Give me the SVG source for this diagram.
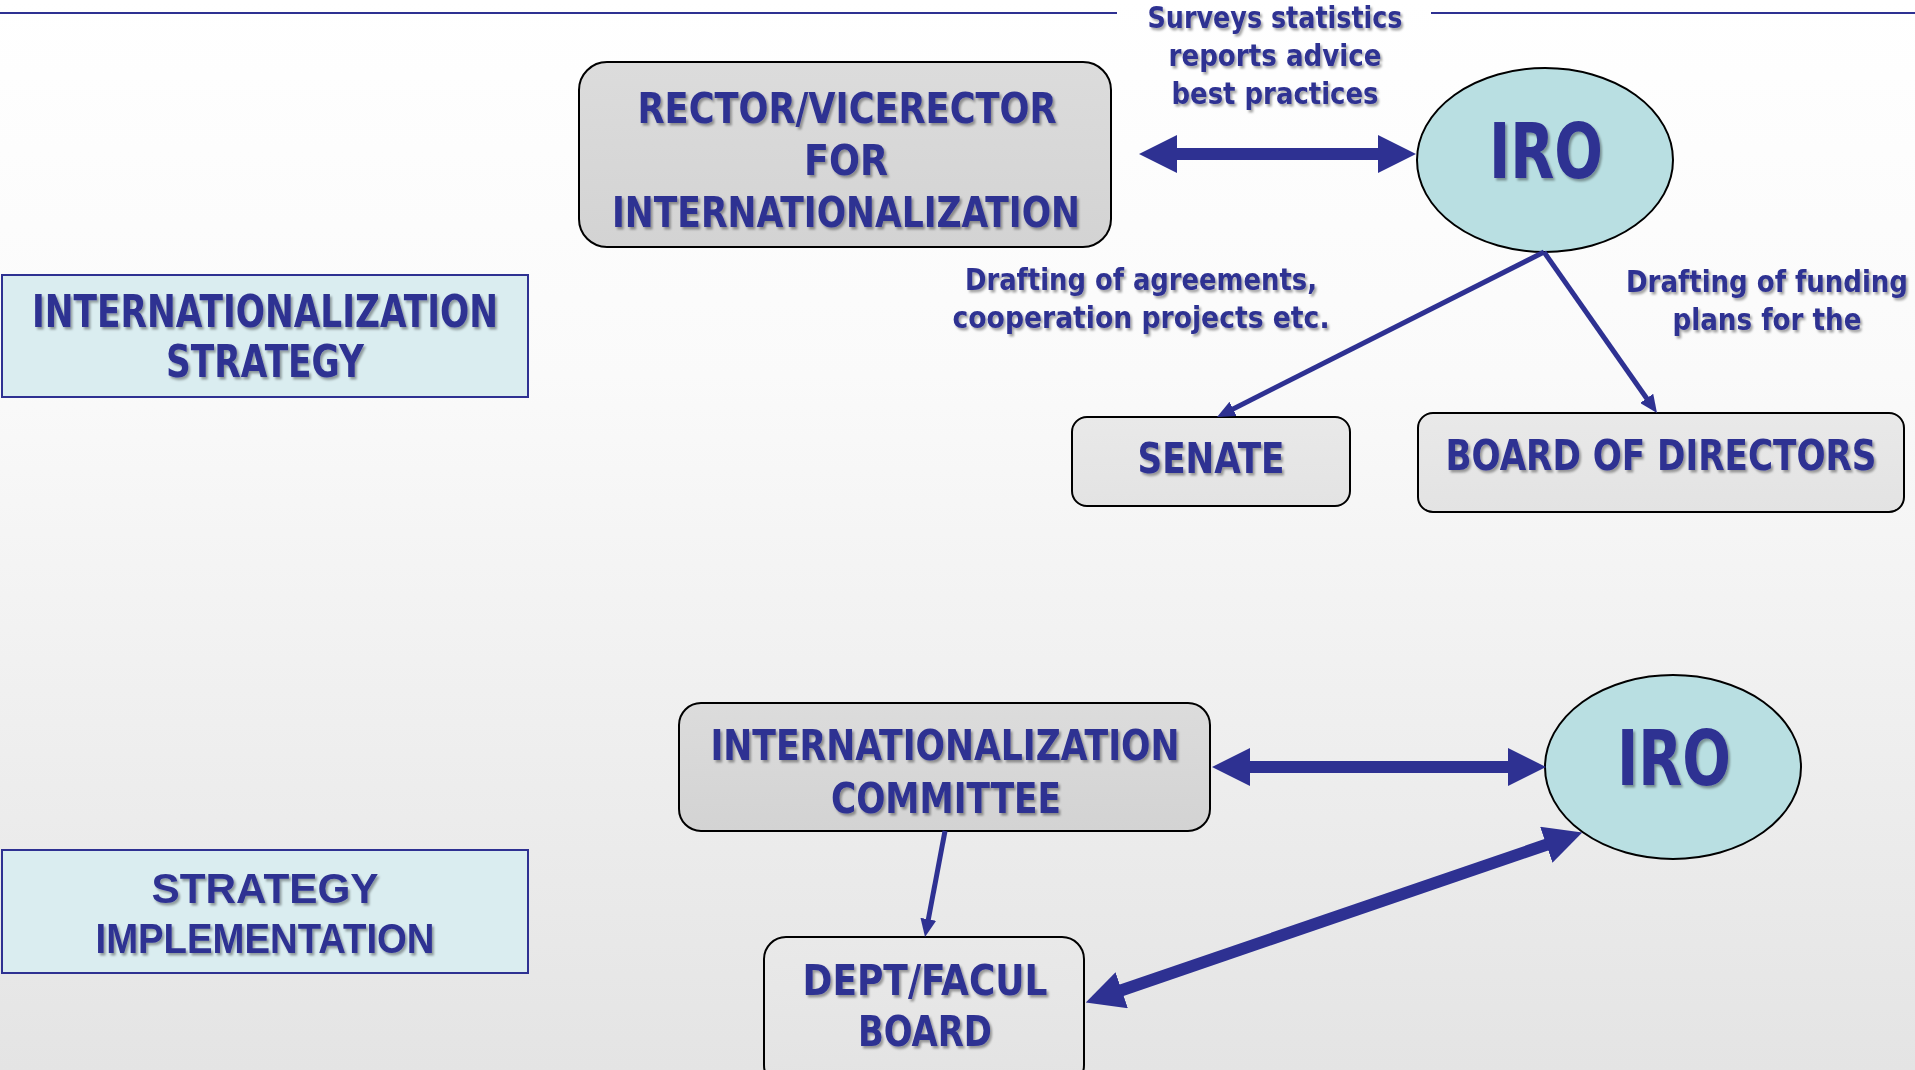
<svg xmlns="http://www.w3.org/2000/svg" width="1915" height="1070" viewBox="0 0 1915 1070">
<defs>
<linearGradient id="bg" x1="0" y1="0" x2="0" y2="1"><stop offset="0" stop-color="#ffffff"/><stop offset="0.35" stop-color="#fafafa"/><stop offset="1" stop-color="#e4e4e4"/></linearGradient>
<linearGradient id="grayDark" x1="0" y1="0" x2="0" y2="1"><stop offset="0" stop-color="#dcdcdc"/><stop offset="1" stop-color="#d3d3d3"/></linearGradient>
<linearGradient id="grayLight" x1="0" y1="0" x2="0" y2="1"><stop offset="0" stop-color="#e9e9e9"/><stop offset="1" stop-color="#e3e3e3"/></linearGradient>
<filter id="sh" x="-10%" y="-20%" width="120%" height="150%"><feDropShadow dx="2" dy="2.5" stdDeviation="1.2" flood-color="#000" flood-opacity="0.35"/></filter>
<marker id="big" markerUnits="userSpaceOnUse" markerWidth="38" markerHeight="38" viewBox="0 0 38 38" refX="24" refY="19" orient="auto-start-reverse"><path d="M0,0 L38,19 L0,38 z" fill="#2e3192"/></marker>
<marker id="small" markerUnits="userSpaceOnUse" markerWidth="18" markerHeight="16" viewBox="0 0 18 16" refX="10" refY="8" orient="auto"><path d="M0,0 L18,8 L0,16 z" fill="#2e3192"/></marker>
<style>
.t{font-family:"DejaVu Sans Condensed","DejaVu Sans","Liberation Sans",sans-serif;font-weight:bold;fill:#2e3192;text-anchor:middle;filter:url(#sh)}
.n{font-size:42px}
.lab{font-size:30px}
.iro{font-size:76px}
.wide{font-family:"DejaVu Sans","Liberation Sans",sans-serif;font-size:44px}
.arial{font-family:"Liberation Sans",Arial,sans-serif;font-size:43px}
.box{stroke:#000;stroke-width:2}
.side{fill:#daedf0;stroke:#2e3192;stroke-width:2}
.ell{fill:#b9dfe2;stroke:#000;stroke-width:2}
.thick{stroke:#2e3192;stroke-width:12;fill:none}
.thin{stroke:#2e3192;stroke-width:5;fill:none}
</style>
</defs>
<rect x="0" y="0" width="1915" height="1070" fill="url(#bg)"/>
<g id="topline">
<line x1="0" y1="13" x2="1117" y2="13" stroke="#2e3192" stroke-width="2"/>
<line x1="1431" y1="13" x2="1915" y2="13" stroke="#2e3192" stroke-width="2"/>
</g>
<g id="node-strategy">
<rect class="side" x="2" y="275" width="526" height="122"/>
<text class="t wide" x="265" y="327" textLength="466" lengthAdjust="spacingAndGlyphs">INTERNATIONALIZATION</text>
<text class="t wide" x="265" y="377" textLength="198" lengthAdjust="spacingAndGlyphs">STRATEGY</text>
</g>
<g id="node-implementation">
<rect class="side" x="2" y="850" width="526" height="123"/>
<text class="t arial" x="265" y="903" textLength="227" lengthAdjust="spacingAndGlyphs">STRATEGY</text>
<text class="t arial" x="265" y="953" textLength="339" lengthAdjust="spacingAndGlyphs">IMPLEMENTATION</text>
</g>
<g id="node-rector">
<rect class="box" x="579" y="62" width="532" height="185" rx="28" fill="url(#grayDark)"/>
<text class="t n" x="847" y="123" textLength="419" lengthAdjust="spacingAndGlyphs">RECTOR/VICERECTOR</text>
<text class="t n" x="846" y="175" textLength="84" lengthAdjust="spacingAndGlyphs">FOR</text>
<text class="t n" x="846" y="227" textLength="468" lengthAdjust="spacingAndGlyphs">INTERNATIONALIZATION</text>
</g>
<g id="node-iro1">
<ellipse class="ell" cx="1545" cy="160" rx="128" ry="92"/>
<text class="t iro" x="1546" y="178" textLength="114" lengthAdjust="spacingAndGlyphs">IRO</text>
</g>
<g id="node-senate">
<rect class="box" x="1072" y="417" width="278" height="89" rx="15" fill="url(#grayLight)"/>
<text class="t n" x="1211" y="473" textLength="147" lengthAdjust="spacingAndGlyphs">SENATE</text>
</g>
<g id="node-board">
<rect class="box" x="1418" y="413" width="486" height="99" rx="15" fill="url(#grayLight)"/>
<text class="t n" x="1661" y="470" textLength="431" lengthAdjust="spacingAndGlyphs">BOARD OF DIRECTORS</text>
</g>
<g id="node-committee">
<rect class="box" x="679" y="703" width="531" height="128" rx="22" fill="url(#grayDark)"/>
<text class="t n" x="945" y="760" textLength="469" lengthAdjust="spacingAndGlyphs">INTERNATIONALIZATION</text>
<text class="t n" x="946" y="813" textLength="230" lengthAdjust="spacingAndGlyphs">COMMITTEE</text>
</g>
<g id="node-iro2">
<ellipse class="ell" cx="1673" cy="767" rx="128" ry="92"/>
<text class="t iro" x="1674" y="785" textLength="114" lengthAdjust="spacingAndGlyphs">IRO</text>
</g>
<g id="node-dept">
<rect class="box" x="764" y="937" width="320" height="150" rx="22" fill="url(#grayLight)"/>
<text class="t n" x="925" y="995" textLength="245" lengthAdjust="spacingAndGlyphs">DEPT/FACUL</text>
<text class="t n" x="925" y="1046" textLength="134" lengthAdjust="spacingAndGlyphs">BOARD</text>
</g>
<g id="connectors">
<line class="thick" x1="1153" y1="154" x2="1402" y2="154" marker-start="url(#big)" marker-end="url(#big)"/>
<line class="thin" x1="1544" y1="252" x2="1224.2" y2="413.4" marker-end="url(#small)"/>
<line class="thin" x1="1544" y1="252" x2="1652.4" y2="406.5" marker-end="url(#small)"/>
<line class="thick" x1="1226" y1="767" x2="1532" y2="767" marker-start="url(#big)" marker-end="url(#big)"/>
<line class="thin" x1="945" y1="831" x2="926.5" y2="929.1" marker-end="url(#small)"/>
<line class="thick" x1="1099" y1="998" x2="1569" y2="837" marker-start="url(#big)" marker-end="url(#big)"/>
</g>
<g id="labels">
<text class="t lab" x="1275" y="28" textLength="255" lengthAdjust="spacingAndGlyphs">Surveys statistics</text>
<text class="t lab" x="1275" y="66" textLength="213" lengthAdjust="spacingAndGlyphs">reports advice</text>
<text class="t lab" x="1275" y="104" textLength="207" lengthAdjust="spacingAndGlyphs">best practices</text>
<text class="t lab" x="1141" y="290" textLength="352" lengthAdjust="spacingAndGlyphs">Drafting of agreements,</text>
<text class="t lab" x="1141" y="328" textLength="377" lengthAdjust="spacingAndGlyphs">cooperation projects etc.</text>
<text class="t lab" x="1767" y="292" textLength="282" lengthAdjust="spacingAndGlyphs">Drafting of funding</text>
<text class="t lab" x="1767" y="330" textLength="189" lengthAdjust="spacingAndGlyphs">plans for the</text>
</g>
</svg>
